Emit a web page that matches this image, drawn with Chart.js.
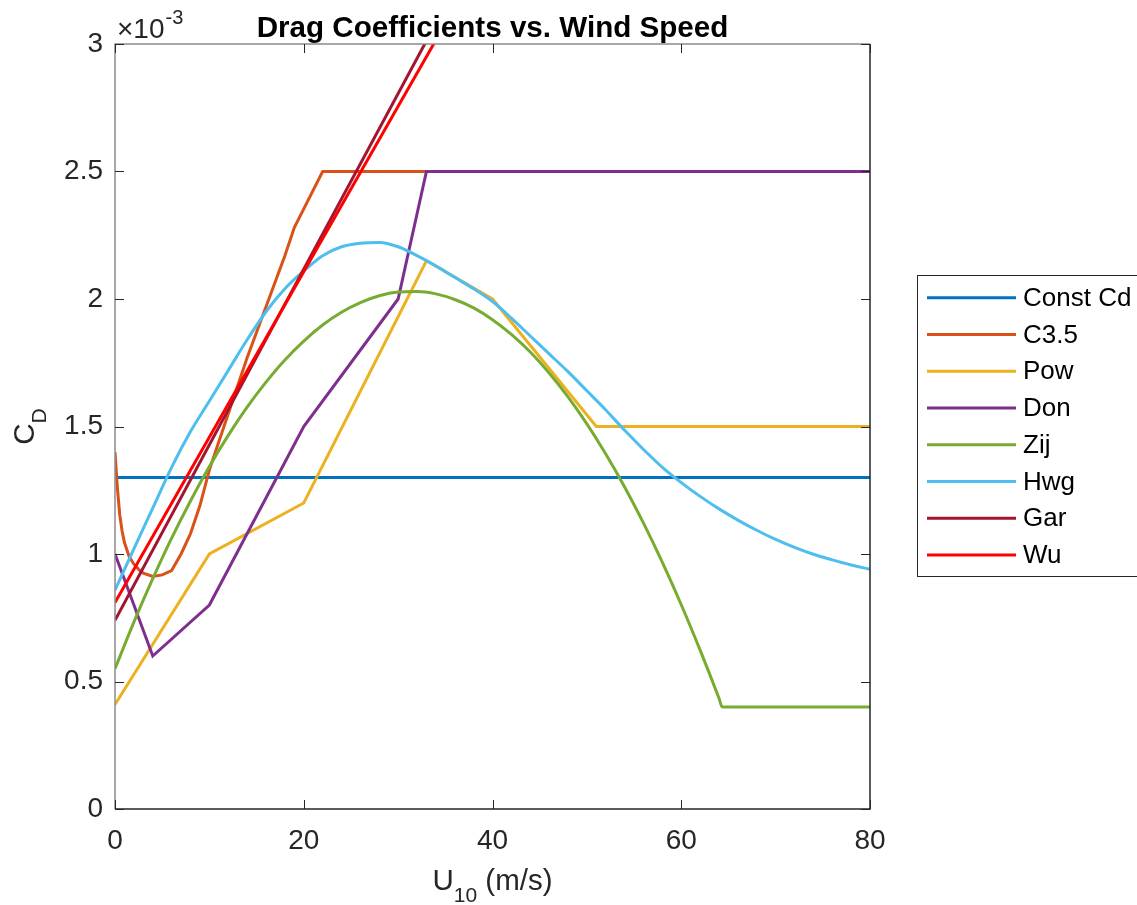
<!DOCTYPE html>
<html>
<head>
<meta charset="utf-8">
<title>Drag Coefficients vs. Wind Speed</title>
<script src="https://cdn.jsdelivr.net/npm/chart.js@4.4.1/dist/chart.umd.min.js"></script>
<style>
  html, body { margin: 0; padding: 0; background: #fff; }
  #wrap { width: 1137px; height: 905px; }
</style>
</head>
<body>
<div id="wrap"><canvas id="dragChart" width="1137" height="905"></canvas></div>
<script>
// Drag coefficient curves, CD values in units of 10^-3

const seriesNames = ['Const Cd', 'C3.5', 'Pow', 'Don', 'Zij', 'Hwg', 'Gar', 'Wu'];
const seriesColors = ['#0072BD', '#D95319', '#EDB120', '#7E2F8E', '#77AC30', '#4DBEEE', '#A2142F', '#FF0000'];
const smoothSeries = ['Zij', 'Hwg'];

const xTicks = [0, 20, 40, 60, 80];
const xTickLabels = ['0', '20', '40', '60', '80'];
const yTicks = [0, 0.5, 1, 1.5, 2, 2.5, 3];
const yTickLabels = ['0', '0.5', '1', '1.5', '2', '2.5', '3'];

const constU = [0, 80];
const constCd = [1.3, 1.3];

const c35U = [0, 0.25, 0.5, 0.75, 1, 1.5, 2, 2.5, 3, 4, 5, 6, 7, 8, 9, 10, 11, 12, 13, 14, 15, 16, 17, 18, 19, 22, 33, 80];
const c35Cd = [1.40, 1.26, 1.155, 1.09, 1.045, 0.99, 0.96, 0.94, 0.925, 0.912, 0.918, 0.935, 1.00, 1.08, 1.19, 1.33, 1.44, 1.55, 1.66, 1.77, 1.87, 1.97, 2.07, 2.17, 2.28, 2.5, 2.5, 2.5];

const powU = [0, 10, 20, 33, 40, 51, 80];
const powCd = [0.41, 1.0, 1.2, 2.15, 2.0, 1.5, 1.5];

const donU = [0, 4, 10, 20, 30, 33, 80];
const donCd = [1.0, 0.6, 0.8, 1.5, 2.0, 2.5, 2.5];

const zijU = [0, 2, 4, 6, 8, 10, 12, 14, 16, 18, 20, 22, 24, 26, 28, 30, 32, 34, 36, 38, 40, 42, 44, 46, 48, 50, 52, 54, 56, 58, 60, 62, 64, 64.34, 80];
const zijCd = [0.55, 0.733, 0.903, 1.062, 1.208, 1.343, 1.465, 1.576, 1.674, 1.761, 1.835, 1.898, 1.948, 1.986, 2.013, 2.027, 2.029, 2.020, 1.998, 1.965, 1.919, 1.861, 1.792, 1.710, 1.616, 1.510, 1.392, 1.263, 1.121, 0.967, 0.801, 0.623, 0.434, 0.4, 0.4];

const hwgU = [0, 2, 4, 6, 8, 10, 12, 14, 16, 18, 20, 22, 24, 26, 28, 30, 32, 34, 36, 38, 40, 42, 44, 46, 48, 50, 52, 54, 56, 58, 60, 62, 64, 66, 68, 70, 72, 74, 76, 78, 80];
const hwgCd = [0.858, 1.02, 1.18, 1.34, 1.48, 1.60, 1.72, 1.84, 1.95, 2.04, 2.11, 2.17, 2.205, 2.219, 2.222, 2.205, 2.17, 2.13, 2.085, 2.04, 1.99, 1.925, 1.855, 1.785, 1.715, 1.64, 1.565, 1.485, 1.41, 1.34, 1.28, 1.226, 1.177, 1.133, 1.093, 1.057, 1.026, 0.999, 0.977, 0.957, 0.94];

const garU = [0, 35];
const garCd = [0.74, 3.15];

const wuU = [0, 35];
const wuCd = [0.81, 3.08];

const seriesU = [constU, c35U, powU, donU, zijU, hwgU, garU, wuU];
const seriesCd = [constCd, c35Cd, powCd, donCd, zijCd, hwgCd, garCd, wuCd];

const FONT = '"Liberation Sans", Arial, Helvetica, sans-serif';
const INK = '#262626';

// draws text pieces one after another (for sub/superscripts)
function drawPieces(ctx, pieces, x, y) {
  let total = 0;
  pieces.forEach(p => {
    ctx.font = p.size + 'px ' + FONT;
    p.w = ctx.measureText(p.text).width;
    total += p.w;
  });
  let cx = x - total / 2;
  pieces.forEach(p => {
    ctx.font = p.size + 'px ' + FONT;
    ctx.fillText(p.text, cx, y + p.dy);
    cx += p.w;
  });
}

// MATLAB-like frame, inward ticks, titles and legend
const matlabFrame = {
  id: 'matlabFrame',
  afterDraw(chart) {
    const { ctx, chartArea: a, scales: { x, y } } = chart;
    ctx.save();

    // box
    ctx.lineWidth = 1.5;
    ctx.strokeStyle = '#8c8c8c';
    ctx.beginPath();
    ctx.moveTo(a.left, a.bottom); ctx.lineTo(a.left, a.top); ctx.lineTo(a.right, a.top);
    ctx.stroke();
    ctx.strokeStyle = INK;
    ctx.beginPath();
    ctx.moveTo(a.left, a.bottom); ctx.lineTo(a.right, a.bottom); ctx.lineTo(a.right, a.top);
    ctx.stroke();

    // inward ticks
    const len = 9;
    ctx.lineWidth = 1;
    ctx.strokeStyle = INK;
    ctx.beginPath();
    x.ticks.forEach(t => {
      const px = Math.round(x.getPixelForValue(t.value)) + 0.5;
      ctx.moveTo(px, a.bottom); ctx.lineTo(px, a.bottom - len);
      ctx.moveTo(px, a.top); ctx.lineTo(px, a.top + len);
    });
    y.ticks.forEach(t => {
      const py = Math.round(y.getPixelForValue(t.value)) + 0.5;
      ctx.moveTo(a.left, py); ctx.lineTo(a.left + len, py);
      ctx.moveTo(a.right, py); ctx.lineTo(a.right - len, py);
    });
    ctx.stroke();

    // title
    ctx.fillStyle = '#000';
    ctx.textAlign = 'center';
    ctx.textBaseline = 'alphabetic';
    ctx.font = 'bold 29.6px ' + FONT;
    ctx.fillText('Drag Coefficients vs. Wind Speed', (a.left + a.right) / 2, 37);

    // exponent label
    ctx.fillStyle = INK;
    ctx.textAlign = 'left';
    ctx.font = '28px ' + FONT;
    ctx.fillText('\u00d710', a.left + 2, 38);
    const w10 = ctx.measureText('\u00d710').width;
    ctx.font = '20px ' + FONT;
    ctx.fillText('-3', a.left + 3 + w10, 24);

    // axis titles
    drawPieces(ctx, [
      { text: 'U', size: 29.5, dy: 0 },
      { text: '10', size: 21, dy: 12 },
      { text: ' (m/s)', size: 29.5, dy: 0 }
    ], (a.left + a.right) / 2, 890);

    ctx.save();
    ctx.translate(33.5, (a.top + a.bottom) / 2);
    ctx.rotate(-Math.PI / 2);
    drawPieces(ctx, [
      { text: 'C', size: 29.5, dy: 0 },
      { text: 'D', size: 21, dy: 12 }
    ], 0, 0);
    ctx.restore();

    // legend
    const lx = 917.5, ly = 275.5, lw = 240, lh = 301;
    ctx.fillStyle = '#fff';
    ctx.fillRect(lx, ly, lw, lh);
    ctx.strokeStyle = INK;
    ctx.lineWidth = 1;
    ctx.strokeRect(lx, ly, lw, lh);
    ctx.font = '26px ' + FONT;
    ctx.textBaseline = 'middle';
    ctx.textAlign = 'left';
    seriesNames.forEach((name, i) => {
      const ry = 297.7 + i * 36.75;
      ctx.strokeStyle = seriesColors[i];
      ctx.lineWidth = 3;
      ctx.beginPath();
      ctx.moveTo(927, ry); ctx.lineTo(1016, ry);
      ctx.stroke();
      ctx.fillStyle = '#000';
      ctx.fillText(name, 1023, ry + 1);
    });

    ctx.restore();
  }
};

const datasets = seriesNames.map((name, i) => ({
  label: name,
  data: seriesU[i].map((u, k) => ({ x: u, y: seriesCd[i][k] })),
  borderColor: seriesColors[i],
  backgroundColor: seriesColors[i],
  borderWidth: 3,
  pointRadius: 0,
  tension: smoothSeries.includes(name) ? 0.4 : 0,
  cubicInterpolationMode: smoothSeries.includes(name) ? 'monotone' : 'default',
  fill: false,
  order: seriesNames.length - i   // later series drawn on top
}));

new Chart(document.getElementById('dragChart'), {
  type: 'line',
  data: { datasets },
  options: {
    responsive: false,
    devicePixelRatio: 1,
    animation: false,
    layout: { padding: { top: 44, right: 267, left: 0, bottom: 0 } },
    plugins: {
      legend: { display: false },
      title: { display: false },
      tooltip: { enabled: false }
    },
    scales: {
      x: {
        type: 'linear',
        min: xTicks[0],
        max: xTicks[xTicks.length - 1],
        afterBuildTicks: s => { s.ticks = xTicks.map(v => ({ value: v })); },
        afterFit: s => { s.height = 96; },
        grid: { display: false, drawTicks: false },
        border: { display: false },
        ticks: {
          color: INK, padding: 15, maxRotation: 0, font: { family: FONT, size: 28 },
          callback: (v, i) => xTickLabels[i]
        }
      },
      y: {
        type: 'linear',
        min: yTicks[0],
        max: yTicks[yTicks.length - 1],
        afterBuildTicks: s => { s.ticks = yTicks.map(v => ({ value: v })); },
        afterFit: s => { s.width = 115; },
        grid: { display: false, drawTicks: false },
        border: { display: false },
        ticks: {
          color: INK, padding: 12, font: { family: FONT, size: 28 },
          callback: (v, i) => yTickLabels[i]
        }
      }
    }
  },
  plugins: [matlabFrame]
});
</script>
</body>
</html>
